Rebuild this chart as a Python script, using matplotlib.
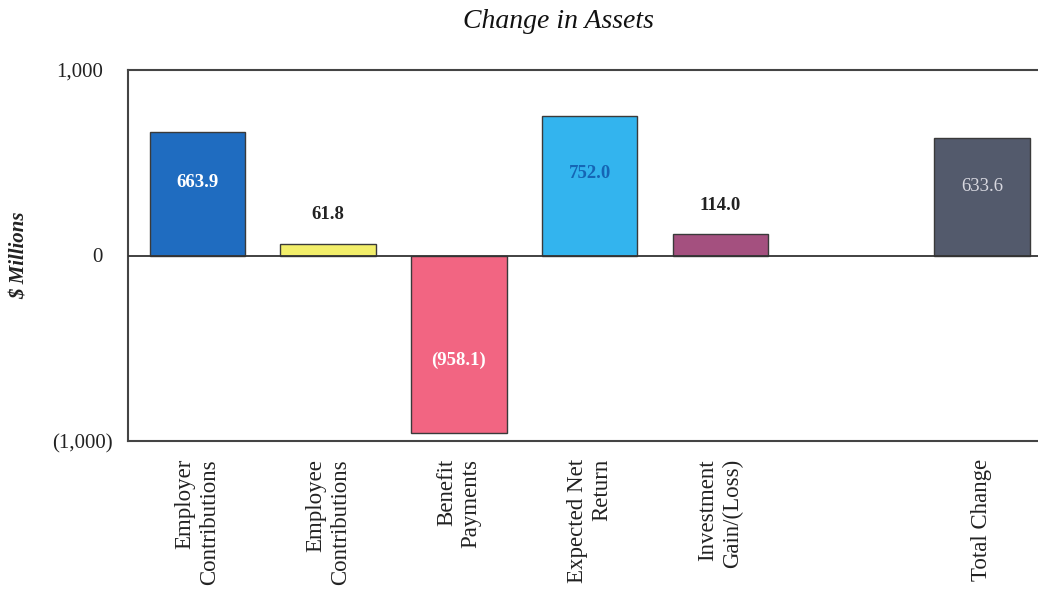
import matplotlib.pyplot as plt
import matplotlib.transforms as mtransforms
import numpy as np

# data
categories = ['Employer\nContributions', 'Employee\nContributions', 'Benefit\nPayments',
              'Expected Net\nReturn', 'Investment\nGain/(Loss)', '', 'Total Change']
values = [663.9, 61.8, -958.1, 752.0, 114.0, None, 633.6]
value_labels = ['663.9', '61.8', '(958.1)', '752.0', '114.0', '', '633.6']
bar_colors = ['#1f6cc0', '#f2ee6a', '#f26582', '#33b4ee', '#a4507f', 'none', '#535a6c']
label_colors = ['white', '#222222', 'white', '#1565b5', '#222222', 'none', '#d8d8e0']
label_weights = ['bold', 'bold', 'bold', 'bold', 'bold', 'normal', 'normal']
label_inside = [True, False, True, True, False, False, True]
yticks = [-1000, 0, 1000]
ytick_labels = ['(1,000)', '0', '1,000']

plt.rcParams['font.family'] = ['Liberation Serif', 'DejaVu Serif']

fig = plt.figure(figsize=(10.38, 5.97), dpi=100)
ax = fig.add_axes([128 / 1038, 1 - 441 / 597, 910 / 1038, 371 / 597])

x = np.arange(len(categories))
for i, v in enumerate(values):
    if v is None:
        continue
    ax.bar(x[i], v, width=0.73, color=bar_colors[i], edgecolor='#3a3a3a', linewidth=1.0, zorder=2)
    if label_inside[i]:
        ax.text(x[i], v * 0.59, value_labels[i], ha='center', va='center',
                color=label_colors[i], fontsize=13.5, fontweight=label_weights[i], zorder=3)
    else:
        ax.annotate(value_labels[i], (x[i], v), xytext=(0, 21), textcoords='offset points',
                    ha='center', va='center', color=label_colors[i], fontsize=13.5,
                    fontweight=label_weights[i], zorder=3)

ax.axhline(0, color='#333333', linewidth=1.3, zorder=3)
ax.set_xlim(-0.53, 6.43)
ax.set_ylim(-1000, 1000)
ax.set_yticks(yticks)
ax.set_yticklabels(ytick_labels, fontsize=15)
ax.set_xticks(x)
ax.set_xticklabels(categories, rotation=90, fontsize=16.5, linespacing=1.2,
                   multialignment='right')
ax.tick_params(axis='both', length=0, pad=18, colors='#222222')
ax.tick_params(axis='x', pad=13)

# accounting style: the closing parenthesis hangs past the digits
for lbl in ax.get_yticklabels():
    if lbl.get_text().startswith('('):
        lbl.set_transform(lbl.get_transform() +
                          mtransforms.ScaledTranslation(7 / 72, 0, fig.dpi_scale_trans))

for side in ['top', 'left', 'bottom']:
    ax.spines[side].set_color('#444444')
    ax.spines[side].set_linewidth(1.5)
ax.spines['right'].set_visible(False)

fig.text(20 / 1038, 1 - 255 / 597, '$ Millions', rotation=90, ha='center', va='center',
         fontsize=15, fontstyle='italic', fontweight='bold', color='#222222')
fig.text(558 / 1038, 1 - 22 / 597, 'Change in Assets', ha='center', va='center',
         fontsize=20, fontstyle='italic', color='#111111')

fig.savefig('out.png', dpi=100)
